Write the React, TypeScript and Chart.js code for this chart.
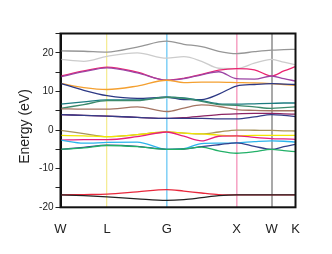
import React, { useEffect, useRef } from "react";
import { Chart, registerables } from "chart.js";

Chart.register(...registerables);

// k-path grid (distance along W-L-G-X-W-K) and high-symmetry points
const kGrid = [0, 0.34, 0.68, 1.12, 1.55, 1.8, 2.06, 2.31, 2.57, 2.83, 3.08, 3.26, 3.43];
const kTicks = [0, 0.68, 1.55, 2.57, 3.08, 3.43];
const kLabels = ["W", "L", "G", "X", "W", "K"];
const kLineColors = ["rgba(0,0,0,0)", "#f5ec96", "#86d2f6", "#f6a6c6", "#a9a9a9", "rgba(0,0,0,0)"];
const kLineWidths = [0, 1.3, 1.6, 1.6, 2, 0];

// band energies (eV) on kGrid
const bandGray1 = [20.5, 20.4, 20.2, 21.5, 23.0, 22.2, 21.6, 20.4, 19.8, 20.3, 20.7, 20.8, 20.9];
const bandGray2 = [18.3, 17.8, 19.1, 20.0, 18.6, 19.0, 17.8, 16.0, 15.9, 17.3, 18.3, 17.6, 16.9];
const bandPink1 = [14.0, 15.3, 16.3, 15.0, 12.9, 13.4, 14.4, 15.5, 15.9, 15.6, 14.0, 15.3, 16.4];
const bandPurple = [13.8, 15.1, 16.1, 14.8, 12.9, 13.3, 14.3, 15.1, 13.3, 13.2, 14.0, 13.3, 12.7];
const bandOrange = [12.1, 11.0, 10.5, 11.4, 12.9, 12.3, 12.4, 12.4, 12.3, 12.2, 12.0, 11.8, 11.6];
const bandNavy1 = [12.1, 10.3, 8.9, 8.2, 8.5, 7.9, 7.9, 9.3, 11.4, 11.8, 12.0, 11.9, 11.8];
const bandTeal = [6.7, 7.3, 7.8, 7.8, 8.5, 8.3, 7.6, 6.8, 6.7, 6.8, 6.9, 7.0, 7.0];
const bandGreen1 = [5.6, 6.6, 7.6, 7.6, 8.5, 8.2, 7.4, 6.6, 6.4, 6.0, 5.6, 5.8, 6.0];
const bandBrown = [5.5, 5.4, 5.4, 6.0, 4.8, 5.7, 6.5, 6.1, 5.3, 5.1, 5.0, 5.0, 5.0];
const bandMaroon = [4.0, 3.8, 3.6, 3.3, 3.0, 3.2, 3.6, 4.0, 4.2, 4.3, 4.3, 4.2, 4.1];
const bandNavy2 = [4.0, 3.8, 3.6, 3.3, 3.0, 3.0, 3.0, 2.9, 2.9, 3.4, 4.0, 3.8, 3.5];
const bandOlive = [-0.1, -0.9, -1.7, -1.2, -0.5, -0.8, -1.0, -0.5, 0.0, -0.05, -0.1, -0.2, -0.25];
const bandYellow = [-1.4, -1.5, -1.7, -1.2, -0.5, -0.8, -1.0, -1.3, -1.5, -1.4, -1.4, -1.4, -1.4];
const bandPink2 = [-2.6, -2.5, -2.5, -1.7, -0.5, -1.6, -2.8, -1.6, -1.5, -1.9, -2.2, -2.3, -2.4];
const bandCyan = [-2.6, -3.4, -3.2, -3.1, -5.0, -4.8, -3.5, -3.4, -3.3, -3.0, -2.8, -2.9, -3.1];
const bandNavy3 = [-5.0, -4.5, -3.9, -4.2, -5.0, -4.9, -4.3, -3.8, -3.3, -4.2, -5.0, -4.3, -3.7];
const bandGreen2 = [-5.0, -4.6, -4.0, -4.3, -5.0, -4.9, -4.4, -5.4, -6.0, -5.6, -5.0, -5.3, -5.6];
const bandRed = [-16.8, -16.7, -16.6, -16.0, -15.4, -15.8, -16.3, -16.7, -16.8, -16.8, -16.8, -16.8, -16.8];
const bandBlack = [-16.8, -17.0, -17.3, -17.8, -18.2, -18.0, -17.5, -17.0, -16.8, -16.8, -16.8, -16.8, -16.8];

const yTicksMin = -20;
const yTicksMax = 25;
const yStep = 5;
const yLabelStep = 10;
const yTitle = "Energy (eV)";

const bands: [number[], string][] = [
  [bandBlack, "#222222"],
  [bandRed, "#e8283c"],
  [bandGreen2, "#22b068"],
  [bandNavy3, "#33408c"],
  [bandCyan, "#2cb4ec"],
  [bandPink2, "#e6207e"],
  [bandYellow, "#f2e600"],
  [bandOlive, "#a8945a"],
  [bandNavy2, "#343c88"],
  [bandMaroon, "#8c2464"],
  [bandBrown, "#a47462"],
  [bandGreen1, "#3c8a6c"],
  [bandTeal, "#1c7c80"],
  [bandNavy1, "#2c3884"],
  [bandOrange, "#f4a030"],
  [bandPurple, "#9c44a4"],
  [bandPink1, "#ea2470"],
  [bandGray2, "#cccccc"],
  [bandGray1, "#969696"],
];

const FONT = "'Liberation Sans', Arial, Helvetica, sans-serif";

export default function App() {
  const ref = useRef<HTMLCanvasElement | null>(null);
  useEffect(() => {
    if (!ref.current) return;
    const framePlugin = {
      id: "frameAndTitle",
      afterDraw(chart: any) {
        const { ctx, chartArea } = chart;
        ctx.save();
        ctx.strokeStyle = "#111";
        ctx.lineWidth = 2;
        ctx.strokeRect(chartArea.left, chartArea.top, chartArea.right - chartArea.left, chartArea.bottom - chartArea.top);
        ctx.translate(25, 126.5);
        ctx.rotate(-Math.PI / 2);
        ctx.fillStyle = "#222";
        ctx.font = `14px ${FONT}`;
        ctx.textAlign = "center";
        ctx.textBaseline = "middle";
        ctx.fillText(yTitle, 0, 0);
        ctx.restore();
      },
    };
    const chart = new Chart(ref.current, {
      type: "line",
      data: {
        datasets: bands.map(([vals, color]) => ({
          data: kGrid.map((k, i) => ({ x: k, y: vals[i] })),
          borderColor: color,
          borderWidth: 1.3,
          pointRadius: 0,
          fill: false,
          cubicInterpolationMode: "monotone" as const,
        })),
      },
      options: {
        animation: false,
        responsive: false,
        devicePixelRatio: 1,
        layout: { padding: { top: 33.5, right: 36.5, left: 0, bottom: 0 } },
        plugins: { legend: { display: false }, tooltip: { enabled: false } },
        scales: {
          x: {
            type: "linear",
            min: kTicks[0],
            max: kTicks[kTicks.length - 1],
            z: 1,
            afterBuildTicks: (scale: any) => {
              scale.ticks = kTicks.map((v) => ({ value: v }));
            },
            afterFit: (scale: any) => {
              scale.height = 46.7;
            },
            ticks: {
              autoSkip: false,
              maxRotation: 0,
              padding: 14,
              color: "#222",
              font: { family: FONT, size: 13 },
              callback: (_v: any, i: number) => kLabels[i],
            },
            grid: {
              drawTicks: false,
              color: (c: any) => kLineColors[c.index] || "rgba(0,0,0,0)",
              lineWidth: (c: any) => kLineWidths[c.index] || 0,
            },
            border: { display: false },
          },
          y: {
            type: "linear",
            min: yTicksMin,
            max: yTicksMax,
            afterFit: (scale: any) => {
              scale.width = 60.5;
            },
            ticks: {
              stepSize: yStep,
              padding: 2,
              color: "#222",
              font: { family: FONT, size: 10 },
              callback: (v: any) => (Number(v) % yLabelStep === 0 ? String(v) : ""),
            },
            grid: { drawOnChartArea: false, drawTicks: true, tickLength: 5, color: "#222", lineWidth: 1 },
            border: { display: true, color: "#111", width: 2 },
          },
        },
      },
      plugins: [framePlugin],
    });
    return () => chart.destroy();
  }, []);
  return (
    <div style={{ position: "absolute", left: 0, top: 0, width: 332, height: 254 }}>
      <canvas ref={ref} width={332} height={254} style={{ display: "block" }} />
    </div>
  );
}
